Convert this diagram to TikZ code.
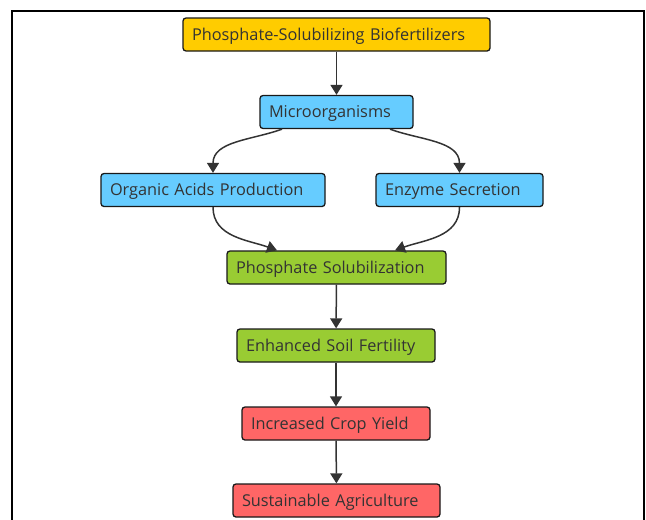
\documentclass[tikz,border=0pt]{standalone}
\usepackage{fontspec}
\setmainfont{Open Sans}
\usetikzlibrary{arrows.meta}

\definecolor{psbyellow}{HTML}{FFCC00}
\definecolor{psbblue}{HTML}{66CCFF}
\definecolor{psbgreen}{HTML}{99CC33}
\definecolor{psbred}{HTML}{FF6666}
\definecolor{psbink}{HTML}{333333}

\begin{document}
\begin{tikzpicture}[x=1pt,y=1pt,->,>={Triangle[width=12pt,length=10pt]},line width=1.5pt,draw=psbink,
  every node/.style={rectangle,rounded corners=3pt,draw=black!90,line width=1.3pt,
    font=\fontsize{16.3}{19}\selectfont,text=psbink,minimum height=33pt,inner xsep=9pt,
    text height=11.5pt,text depth=0pt,align=left}]
  \useasboundingbox (0,0) rectangle (646,-520);
  \draw[-,black,line width=2pt] (12,-520) -- (12,-10.5) -- (644,-10.5) -- (644,-520);

  \node[fill=psbyellow,text width=289pt] (psb) at (336.5,-34.5) {Phosphate-Solubilizing Biofertilizers};
  \node[fill=psbblue,text width=135pt] (micro) at (336.5,-112) {Microorganisms};
  \node[fill=psbblue,text width=206pt] (acids) at (213,-190) {Organic Acids Production};
  \node[fill=psbblue,text width=149pt] (enzyme) at (459.5,-190) {Enzyme Secretion};
  \node[fill=psbgreen,text width=201pt] (sol) at (336.5,-267.5) {Phosphate Solubilization};
  \node[fill=psbgreen,text width=180pt] (fert) at (336,-345.5) {Enhanced Soil Fertility};
  \node[fill=psbred,text width=170pt] (yield) at (336,-423.5) {Increased Crop Yield};
  \node[fill=psbred,text width=189pt] (agri) at (336.5,-500.5) {Sustainable Agriculture};

  \foreach \from/\to in {psb/micro, sol/fert, fert/yield, yield/agri}
    \draw (\from) -- (\to);

  \draw ([xshift=-54.5pt]micro.south) to[out=200,in=90] (acids.north);
  \draw ([xshift=53.5pt]micro.south) to[out=-20,in=90] (enzyme.north);
  \draw (acids.south) to[out=-90,in=160] ([xshift=-59.5pt]sol.north);
  \draw (enzyme.south) to[out=-90,in=20] ([xshift=58.5pt]sol.north);

\end{tikzpicture}
\end{document}
